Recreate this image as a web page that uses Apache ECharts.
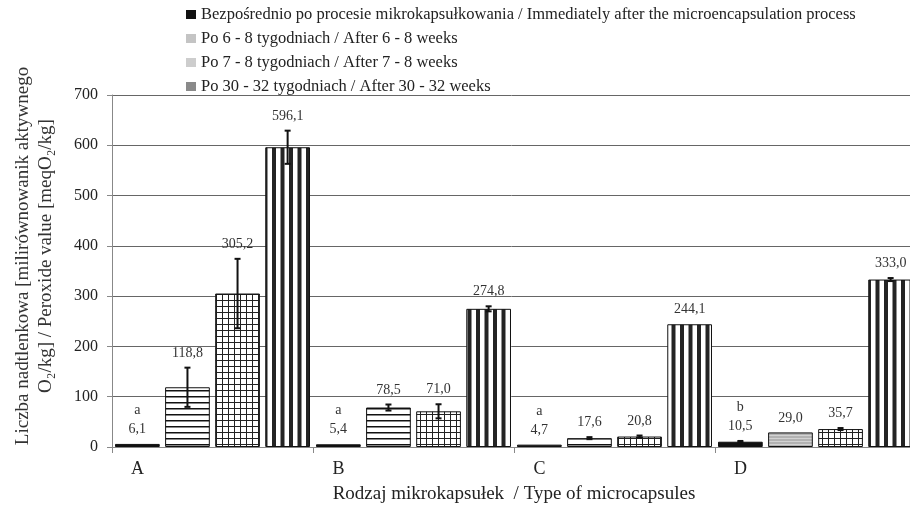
<!DOCTYPE html>
<html>
<head>
<meta charset="utf-8">
<script src="https://cdn.jsdelivr.net/npm/echarts@6/dist/echarts.min.js"></script>
<style>
  html, body { margin: 0; padding: 0; background: #fff; }
  #chart { width: 910px; height: 506px; }
</style>
</head>
<body>
<div id="chart"></div>
<script>
const categories = ["A", "B", "C", "D"];
const seriesNames = [
  "Bezpośrednio po procesie mikrokapsułkowania / Immediately after the microencapsulation process",
  "Po 6 - 8 tygodniach / After 6 - 8 weeks",
  "Po 7 - 8 tygodniach / After 7 - 8 weeks",
  "Po 30 - 32 tygodniach / After 30 - 32 weeks",
];
const immediately = [6.1, 5.4, 4.7, 10.5];
const after6to8 = [118.8, 78.5, 17.6, 29.0];
const after7to8 = [305.2, 71.0, 20.8, 35.7];
const after30to32 = [596.1, 274.8, 244.1, 333.0];
const errImmediately = [0, 0, 0, 1.5];
const err6to8 = [39, 6, 2, 0];
const err7to8 = [69, 14, 2, 2];
const err30to32 = [33, 5, 0, 3];
const letters = ["a", "a", "a", "b"];

const values = [immediately, after6to8, after7to8, after30to32];
const errors = [errImmediately, err6to8, err7to8, err30to32];

const FONT = "'Liberation Serif', 'DejaVu Serif', serif";
const BAR_GAP = 0.12;
const CAT_GAP = 0.03;

function makePattern(w, h, draw) {
  const cv = document.createElement("canvas");
  cv.width = w;
  cv.height = h;
  const ctx = cv.getContext("2d");
  ctx.fillStyle = "#fff";
  ctx.fillRect(0, 0, w, h);
  draw(ctx);
  return { image: cv, repeat: "repeat" };
}

const hStripes = makePattern(6, 6, ctx => {
  ctx.fillStyle = "#111";
  ctx.fillRect(0, 0, 6, 1.5);
});
const gridPattern = makePattern(6, 6, ctx => {
  ctx.fillStyle = "#222";
  ctx.fillRect(0, 0, 6, 1);
  ctx.fillRect(0, 0, 1, 6);
});
// dark stripes about 4 px wide, 8.5 px apart
const vStripes = makePattern(17, 4, ctx => {
  ctx.fillStyle = "#242424";
  ctx.fillRect(0, 0, 4, 4);
  ctx.fillRect(8.5, 0, 4, 4);
});
const grayFine = makePattern(4, 3, ctx => {
  ctx.fillStyle = "#b2b2b2";
  ctx.fillRect(0, 0, 4, 3);
  ctx.fillStyle = "#d2d2d2";
  ctx.fillRect(0, 0, 4, 1);
});
const fills = ["#111", hStripes, gridPattern, vStripes];
const legendColors = ["#111", "#c4c4c4", "#cdcdcd", "#8a8a8a"];

const fmt = v => v.toFixed(1).replace(".", ",");

const errData = [];
values.forEach((arr, s) => {
  arr.forEach((v, c) => errData.push([c, s, v, errors[s][c]]));
});

function renderErr(params, api) {
  const c = api.value(0);
  const s = api.value(1);
  const v = api.value(2);
  const e = api.value(3);
  const band = api.size([1, 0])[0];
  const usable = band * (1 - CAT_GAP);
  const w = usable / (4 + 3 * BAR_GAP);
  const total = w * 4 + 3 * w * BAR_GAP;
  const x = api.coord([c, 0])[0] - total / 2 + s * w * (1 + BAR_GAP) + w / 2;
  const yTop = api.coord([c, v + e])[1];
  const yBot = api.coord([c, v - e])[1];
  const yBar = api.coord([c, v])[1];
  const children = [];
  const ls = { stroke: "#111", lineWidth: 2 };
  if (e > 0) {
    children.push({ type: "line", shape: { x1: x, y1: yTop, x2: x, y2: yBot }, style: ls });
    children.push({ type: "line", shape: { x1: x - 3, y1: yTop, x2: x + 3, y2: yTop }, style: ls });
    children.push({ type: "line", shape: { x1: x - 3, y1: yBot, x2: x + 3, y2: yBot }, style: ls });
  }
  let text = fmt(v);
  if (s === 0) text = letters[c] + "\n" + text;
  children.push({
    type: "text",
    x: x,
    y: Math.min(yTop, yBar) - 5,
    style: {
      text: text,
      fill: "#333",
      fontFamily: FONT,
      fontSize: 14,
      lineHeight: 19,
      align: "center",
      verticalAlign: "bottom",
    },
  });
  return { type: "group", children: children };
}

const chart = echarts.init(document.getElementById("chart"));

const barSeries = values.map((arr, s) => ({
  name: seriesNames[s],
  type: "bar",
  barGap: BAR_GAP * 100 + "%",
  barCategoryGap: CAT_GAP * 100 + "%",
  itemStyle: { color: fills[s], borderColor: "#111", borderWidth: 1 },
  data: arr.map((v, c) => (s === 1 && c === 3 ? { value: v, itemStyle: { color: grayFine } } : v)),
}));

chart.setOption({
  animation: false,
  backgroundColor: "#fff",
  textStyle: { fontFamily: FONT },
  legend: {
    orient: "vertical",
    left: 181,
    top: 1,
    itemGap: 7,
    itemWidth: 10,
    itemHeight: 9,
    icon: "rect",
    textStyle: { fontFamily: FONT, fontSize: 16.5, color: "#222", lineHeight: 17 },
    data: seriesNames.map((n, i) => ({ name: n, itemStyle: { color: legendColors[i], borderWidth: 0 } })),
  },
  grid: { left: 112, top: 95, width: 804, height: 352, outerBoundsMode: "none" },
  xAxis: {
    type: "category",
    data: categories,
    name: "Rodzaj mikrokapsułek  / Type of microcapsules",
    nameLocation: "middle",
    nameGap: 38,
    nameTextStyle: { fontFamily: FONT, fontSize: 19, color: "#222", verticalAlign: "top" },
    axisLine: { show: true, lineStyle: { color: "#888", width: 1 } },
    axisTick: { show: true, length: 6, lineStyle: { color: "#888" } },
    axisLabel: {
      fontFamily: FONT,
      fontSize: 18,
      color: "#222",
      margin: 13,
      padding: [0, 150, 0, 0],
    },
  },
  yAxis: {
    type: "value",
    min: 0,
    max: 700,
    interval: 100,
    name: "Liczba nadtlenkowa [milirównowanik aktywnego\n{b|O₂/kg] / Peroxide value [meqO₂/kg]}",
    nameLocation: "middle",
    nameGap: 54,
    nameTextStyle: {
      fontFamily: FONT,
      fontSize: 19,
      color: "#333",
      lineHeight: 23,
      padding: [0, 0, 0, 30],
      rich: { b: { fontFamily: FONT, fontSize: 19, color: "#333", lineHeight: 23 } },
    },
    axisLine: { show: true, lineStyle: { color: "#888", width: 1 } },
    axisTick: { show: true, length: 5, lineStyle: { color: "#888" } },
    axisLabel: { fontFamily: FONT, fontSize: 16, color: "#222", margin: 14 },
    splitLine: { show: true, lineStyle: { color: "#666", width: 1 } },
  },
  series: barSeries.concat([
    {
      type: "custom",
      name: "err",
      z: 5,
      renderItem: renderErr,
      encode: { x: 0, y: 2 },
      data: errData,
    },
  ]),
});
</script>
</body>
</html>
